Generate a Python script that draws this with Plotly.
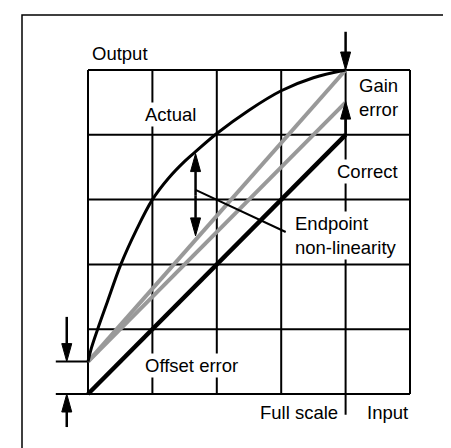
import plotly.graph_objects as go

# grid in "units" (5 x 5 cells), full scale sits at 4
grid_ticks = [0, 1, 2, 3, 4, 5]
full_scale = 4

actual_x = [0, 0.05, 0.15, 0.3, 0.51, 0.75, 1.0, 1.25, 1.5, 1.67, 2.0, 2.5, 3.0, 3.5, 4.0]
actual_y = [0.5, 0.7, 1.0, 1.42, 2.0, 2.53, 3.0, 3.33, 3.59, 3.74, 4.02, 4.38, 4.68, 4.88, 5.0]

correct_x = [0, 4]
correct_y = [0, 4]

endpoint_x = [0, 4]      # straight line through the actual end points
endpoint_y = [0.5, 5.0]

offset_x = [0, 4]        # correct line shifted by the offset only
offset_y = [0.5, 4.5]

# vertical arrows: x, tail y, tip y
arrow_x = [4.0, 4.0, 1.67, 1.67, -0.33, -0.33]
arrow_from = [5.59, 4.0, 3.06, 3.06, 1.19, -0.51]
arrow_to = [5.0, 4.52, 3.71, 2.44, 0.5, 0.0]

# leader line from the double arrow to its label
leader_x = [1.67, 3.07]
leader_y = [3.15, 2.5]

# small tick lines
offset_tick_y = [0.0, 0.5]
offset_tick_x = [-0.5, 0]
fs_tick_y = [0, -0.32]

W, H = 451, 448
PX_X, PX_Y = 64.4, 64.8          # pixels per unit
X0_PX, Y0_PX = 80, 386           # pixel position of the origin

FONT = dict(family="Liberation Sans, Arial, sans-serif", size=18.5, color="black")
HEAD_LEN = 18 / PX_Y
HEAD_HW = 5 / PX_X

fig = go.Figure()


def seg(xs, ys, color="black", width=2, shape="linear"):
    fig.add_trace(go.Scatter(x=xs, y=ys, mode="lines", hoverinfo="skip",
                             line=dict(color=color, width=width, shape=shape)))


# grid
gx, gy = [], []
for t in grid_ticks:
    gx += [t, t, None]
    gy += [grid_ticks[0], grid_ticks[-1], None]
    gx += [grid_ticks[0], grid_ticks[-1], None]
    gy += [t, t, None]
seg(gx, gy, width=2)

# ticks outside the grid
for ty in offset_tick_y:
    seg(offset_tick_x, [ty, ty], width=2)
seg([full_scale, full_scale], fs_tick_y, width=2)

# lines
seg(offset_x, offset_y, color="#999999", width=4)
seg(endpoint_x, endpoint_y, color="#999999", width=4)
seg(correct_x, correct_y, width=4.5)
seg(actual_x, actual_y, width=3, shape="spline")
seg(leader_x, leader_y, width=2)

# arrows
for ax_, y0, y1 in zip(arrow_x, arrow_from, arrow_to):
    d = 1 if y1 > y0 else -1
    base = y1 - d * HEAD_LEN
    seg([ax_, ax_], [y0, base], width=2.5)
    fig.add_trace(go.Scatter(
        x=[ax_ - HEAD_HW, ax_ + HEAD_HW, ax_, ax_ - HEAD_HW],
        y=[base, base, y1, base],
        mode="lines", fill="toself", fillcolor="black",
        line=dict(color="black", width=1), hoverinfo="skip"))


def label(text, x, y, xanchor="left", bg=True):
    fig.add_annotation(x=x, y=y, text=text, showarrow=False, xanchor=xanchor,
                       yanchor="middle", align="left", font=FONT,
                       bgcolor="white" if bg else None, borderpad=1)


label("Output", 0.03, 5.26, bg=False)
label("Actual", 0.85, 4.32)
label("Gain<br>error", 4.18, 4.58)
label("Correct", 3.84, 3.43)
label("Endpoint<br>non-linearity", 3.18, 2.45)
label("Offset error", 0.85, 0.44)
label("Full scale", 3.91, -0.29, xanchor="right", bg=False)
label("Input", 5.0, -0.29, xanchor="right", bg=False)

# outer frame
fig.add_shape(type="rect", xref="paper", yref="paper",
              x0=14 / W, x1=448 / W, y0=-0.01, y1=1 - 7 / H,
              line=dict(color="black", width=1.5))

fig.update_layout(
    width=W, height=H, margin=dict(l=0, r=0, t=0, b=0),
    paper_bgcolor="white", plot_bgcolor="white", showlegend=False,
    xaxis=dict(range=[-X0_PX / PX_X, (W - X0_PX) / PX_X], visible=False, fixedrange=True),
    yaxis=dict(range=[-(H - Y0_PX) / PX_Y, Y0_PX / PX_Y], visible=False, fixedrange=True),
)

fig.write_html("out.html")
